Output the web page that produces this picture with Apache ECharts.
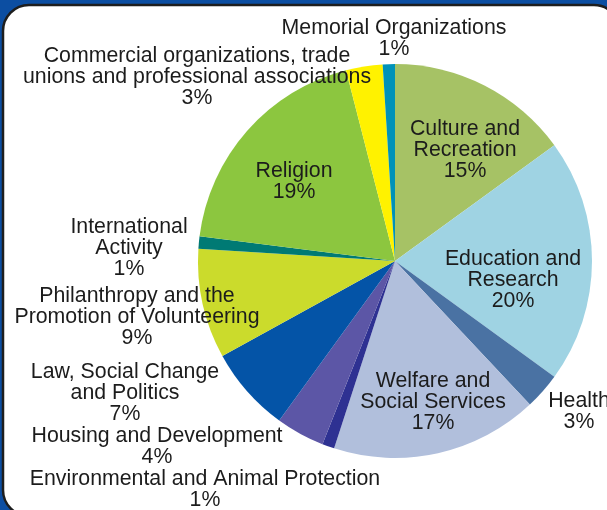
<!DOCTYPE html>
<html>
<head>
<meta charset="utf-8">
<script src="https://cdn.jsdelivr.net/npm/echarts@6/dist/echarts.min.js"></script>
<style>
html,body{margin:0;padding:0;background:#0c4ea2;}
#chart{width:607px;height:510px;}
</style>
</head>
<body>
<div id="chart"></div>
<script>
const categories = [
  "Culture and\nRecreation",
  "Education and\nResearch",
  "Health",
  "Welfare and\nSocial Services",
  "Environmental and Animal Protection",
  "Housing and Development",
  "Law, Social Change\nand Politics",
  "Philanthropy and the\nPromotion of Volunteering",
  "International\nActivity",
  "Religion",
  "Commercial organizations, trade\nunions and professional associations",
  "Memorial Organizations"
];
const values = [15, 20, 3, 17, 1, 4, 7, 9, 1, 19, 3, 1];
const colors = ["#a6c265", "#9fd3e3", "#4a72a3", "#b1bfdc", "#2e3192", "#5c56a6",
                "#0454a7", "#cbdb2c", "#007a74", "#8cc63f", "#fff200", "#0092b8"];
// label block centres (layout only)
const labelPos = [
  [465, 150], [513, 280], [579, 412], [433, 402], [205, 490], [157, 447],
  [125, 393], [137, 317], [129, 248], [294, 182], [197, 77], [394, 39]
];

const chart = echarts.init(document.getElementById('chart'));
chart.setOption({
  animation: false,
  backgroundColor: 'transparent',
  graphic: [{
    type: 'rect',
    z: -10,
    shape: {x: 3, y: 5, width: 617, height: 511, r: 26},
    style: {fill: '#ffffff', stroke: '#1e1e1e', lineWidth: 2.5}
  }],
  series: [{
    type: 'pie',
    center: [395, 261],
    radius: 197,
    startAngle: 90,
    clockwise: true,
    avoidLabelOverlap: false,
    data: categories.map((c, i) => ({name: c, value: values[i], itemStyle: {color: colors[i]}})),
    itemStyle: {borderWidth: 0},
    label: {
      show: true,
      position: 'inside',
      formatter: p => p.name + '\n' + p.value + '%',
      fontFamily: 'Liberation Sans',
      fontSize: 21.3,
      lineHeight: 21,
      color: '#1c1c1c',
      align: 'center'
    },
    labelLine: {show: false},
    labelLayout: p => ({
      x: labelPos[p.dataIndex][0],
      y: labelPos[p.dataIndex][1],
      align: 'center',
      verticalAlign: 'middle'
    }),
    emphasis: {disabled: true}
  }]
});
</script>
</body>
</html>
